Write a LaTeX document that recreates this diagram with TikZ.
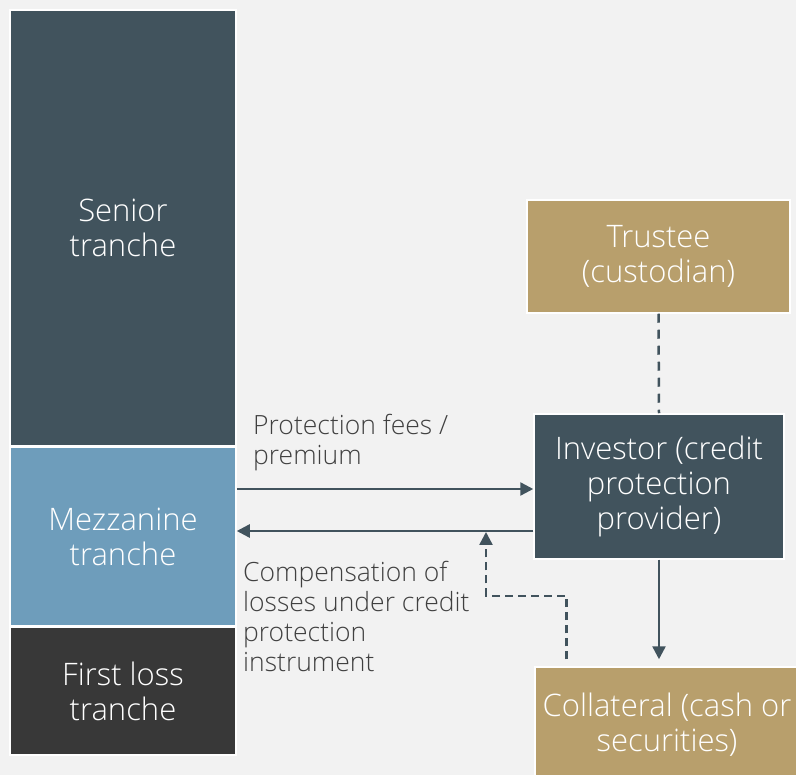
\documentclass[tikz,border=0pt]{standalone}
\usepackage{fontspec}
\setmainfont{Open Sans}[UprightFont=* Light]
\usetikzlibrary{arrows.meta,calc}
\definecolor{bgc}{HTML}{F2F2F2}
\definecolor{slate}{HTML}{41535D}
\definecolor{mezz}{HTML}{6E9DBB}
\definecolor{firstloss}{HTML}{383838}
\definecolor{tan}{HTML}{B89F6C}
\definecolor{txt}{HTML}{404040}
\tikzset{
  x=1pt, y=-1pt,
  box/.style={draw=white, line width=1.5pt, text=white, align=center,
    inner sep=0pt, font=\fontsize{31}{35}\selectfont},
  lbl/.style={text=txt, align=left, inner sep=0pt, anchor=north west,
    font=\fontsize{26.5}{30}\selectfont},
  flow/.style={draw=slate, line width=2.5pt,
    -{Triangle[length=13pt,width=13pt]}},
  dashflow/.style={flow, dash pattern=on 8pt off 5pt},
}
\begin{document}
\begin{tikzpicture}
  \fill[bgc] (0,0) rectangle (796,775);
  \useasboundingbox (0,0) rectangle (796,775);

  % tranche stack
  \node[box, fill=slate, minimum width=226pt, minimum height=436pt] (senior) at (123,228) {Senior\\tranche};
  \node[box, fill=mezz, minimum width=226pt, minimum height=179pt] (mezz) at (123,536.5) {Mezzanine\\tranche};
  \node[box, fill=firstloss, minimum width=226pt, minimum height=128pt] (first) at (123,691) {First loss\\tranche};

  % right-hand parties
  \node[box, fill=tan, minimum width=263pt, minimum height=113pt] (trustee) at (658.5,256.5) {Trustee\\(custodian)};
  \node[box, fill=slate, minimum width=250pt, minimum height=145pt] (investor) at (659,486.5) {Investor (credit\\protection\\provider)};
  \node[box, fill=tan, minimum width=264pt, minimum height=116pt] (collateral) at (667,725) {Collateral (cash or\\securities)};

  % labels
  \node[lbl] (fees) at (253,414) {Protection fees /\\premium};
  \node[lbl] (comp) at (243,561) {Compensation of\\losses under credit\\protection\\instrument};

  % flows
  \draw[flow] (mezz.east |- 0,489) -- (investor.west |- 0,489);
  \draw[flow] (investor.west |- 0,531) -- (mezz.east |- 0,531);
  \draw[flow, shorten >=7pt] (investor.south) -- (collateral.north -| investor.south);
  \draw[dashflow] ($(collateral.north west)+(32,-7)$) coordinate (cstart)
     -- (cstart |- 0,596) -- (486,596) coordinate (cbend) -- (cbend |- 0,532);
  \draw[slate, line width=2.5pt, dash pattern=on 9pt off 7pt] (trustee.south) -- (investor.north);
\end{tikzpicture}
\end{document}
